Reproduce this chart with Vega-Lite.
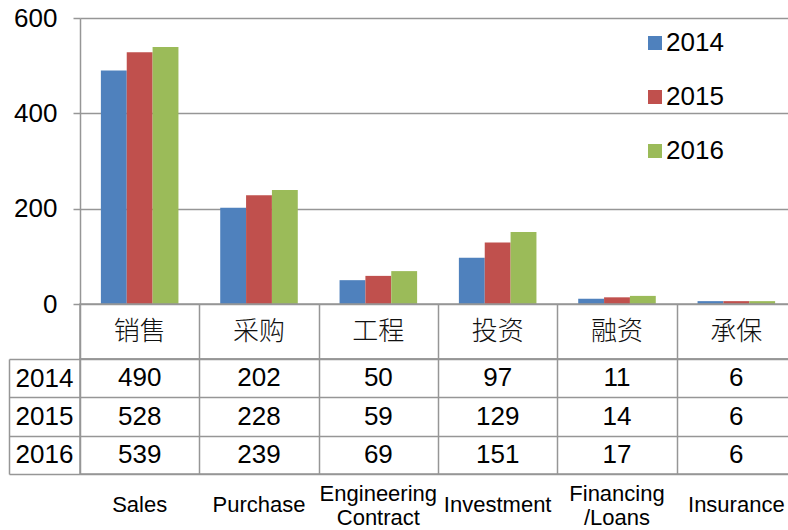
{
  "$schema": "https://vega.github.io/schema/vega-lite/v6.json",
  "autosize": {"type": "pad"},
  "padding": {"left": 7, "top": 5, "right": 0, "bottom": 0},
  "background": "white",
  "bounds": "flush",
  "spacing": 0,
  "config": {
    "font": "Liberation Sans, Noto Sans CJK SC",
    "view": {"stroke": null},
    "axis": {
      "domainColor": "#969696",
      "domainWidth": 1.5,
      "gridColor": "#969696",
      "gridWidth": 1.5,
      "tickColor": "#969696",
      "tickWidth": 1.5,
      "labelColor": "black",
      "labelFont": "Liberation Sans, Noto Sans CJK SC",
      "labelFontSize": 26
    }
  },
  "datasets": {
    "vals": [
      {"cat": "销售", "year": "2014", "value": 490},
      {"cat": "销售", "year": "2015", "value": 528},
      {"cat": "销售", "year": "2016", "value": 539},
      {"cat": "采购", "year": "2014", "value": 202},
      {"cat": "采购", "year": "2015", "value": 228},
      {"cat": "采购", "year": "2016", "value": 239},
      {"cat": "工程", "year": "2014", "value": 50},
      {"cat": "工程", "year": "2015", "value": 59},
      {"cat": "工程", "year": "2016", "value": 69},
      {"cat": "投资", "year": "2014", "value": 97},
      {"cat": "投资", "year": "2015", "value": 129},
      {"cat": "投资", "year": "2016", "value": 151},
      {"cat": "融资", "year": "2014", "value": 11},
      {"cat": "融资", "year": "2015", "value": 14},
      {"cat": "融资", "year": "2016", "value": 17},
      {"cat": "承保", "year": "2014", "value": 6},
      {"cat": "承保", "year": "2015", "value": 6},
      {"cat": "承保", "year": "2016", "value": 6}
    ],
    "cats": [
      {"cat": "销售", "en": "Sales"},
      {"cat": "采购", "en": "Purchase"},
      {"cat": "工程", "en": "Engineering\nContract"},
      {"cat": "投资", "en": "Investment"},
      {"cat": "融资", "en": "Financing\n/Loans"},
      {"cat": "承保", "en": "Insurance"}
    ]
  },
  "vconcat": [
    {
      "width": 716,
      "height": 286,
      "data": {"name": "vals"},
      "mark": {"type": "bar"},
      "encoding": {
        "x": {
          "field": "cat", "type": "nominal", "sort": null,
          "scale": {"paddingInner": 0.35, "paddingOuter": 0.175},
          "axis": null
        },
        "xOffset": {"field": "year", "type": "nominal", "scale": {"paddingInner": 0, "paddingOuter": 0}},
        "y": {
          "field": "value", "type": "quantitative",
          "scale": {"domain": [0, 600], "nice": false},
          "axis": {"values": [0, 200, 400, 600], "title": null, "grid": true, "tickSize": 7, "labelPadding": 16}
        },
        "color": {
          "field": "year", "type": "nominal",
          "scale": {"domain": ["2014", "2015", "2016"], "range": ["#4F81BD", "#C0504D", "#9BBB59"]},
          "legend": {
            "orient": "none", "legendX": 562, "legendY": 12, "title": null,
            "symbolType": "square", "symbolSize": 196, "symbolStrokeWidth": 0, "symbolOpacity": 1,
            "labelFontSize": 26, "labelColor": "black", "labelOffset": -2, "rowPadding": 28, "padding": 0
          }
        }
      }
    },
    {
      "width": 716,
      "height": 55,
      "view": {"stroke": "#969696", "strokeWidth": 1.5},
      "data": {"name": "cats"},
      "mark": {"type": "text", "fontSize": 26, "fontWeight": 300, "color": "#111111", "baseline": "middle"},
      "encoding": {
        "x": {
          "field": "cat", "type": "nominal", "sort": null,
          "scale": {"paddingInner": 0, "paddingOuter": 0},
          "axis": {"grid": true, "tickBand": "extent", "labels": false, "ticks": false, "domain": false, "title": null}
        },
        "text": {"field": "cat"}
      }
    },
    {
      "width": 716,
      "height": 115,
      "view": {"stroke": "#969696", "strokeWidth": 1.5},
      "data": {"name": "vals"},
      "mark": {"type": "text", "fontSize": 26, "color": "black", "baseline": "middle"},
      "encoding": {
        "x": {
          "field": "cat", "type": "nominal", "sort": null,
          "scale": {"paddingInner": 0, "paddingOuter": 0},
          "axis": {"grid": true, "tickBand": "extent", "labels": false, "ticks": false, "domain": false, "title": null}
        },
        "y": {
          "field": "year", "type": "nominal", "sort": null,
          "scale": {"paddingInner": 0, "paddingOuter": 0},
          "axis": {
            "orient": "left", "offset": 71, "title": null, "grid": true, "tickBand": "extent",
            "tickSize": -71, "labelPadding": 36, "labelAlign": "center", "labelBaseline": "middle"
          }
        },
        "text": {"field": "value"}
      }
    },
    {
      "width": 716,
      "height": 56,
      "data": {"name": "cats"},
      "encoding": {
        "x": {
          "field": "cat", "type": "nominal", "sort": null,
          "scale": {"domain": ["销售", "采购", "工程", "投资", "融资", "承保"], "paddingInner": 0, "paddingOuter": 0},
          "axis": null
        },
        "text": {"field": "en"}
      },
      "layer": [
        {
          "transform": [{"filter": {"not": {"field": "cat", "oneOf": ["工程", "融资"]}}}],
          "mark": {"type": "text", "fontSize": 22, "color": "black", "baseline": "middle", "dy": 3}
        },
        {
          "transform": [{"filter": {"field": "cat", "oneOf": ["工程", "融资"]}}],
          "mark": {"type": "text", "fontSize": 22, "color": "black", "baseline": "middle", "lineBreak": "\n", "lineHeight": 24, "dy": -8}
        }
      ]
    }
  ]
}
